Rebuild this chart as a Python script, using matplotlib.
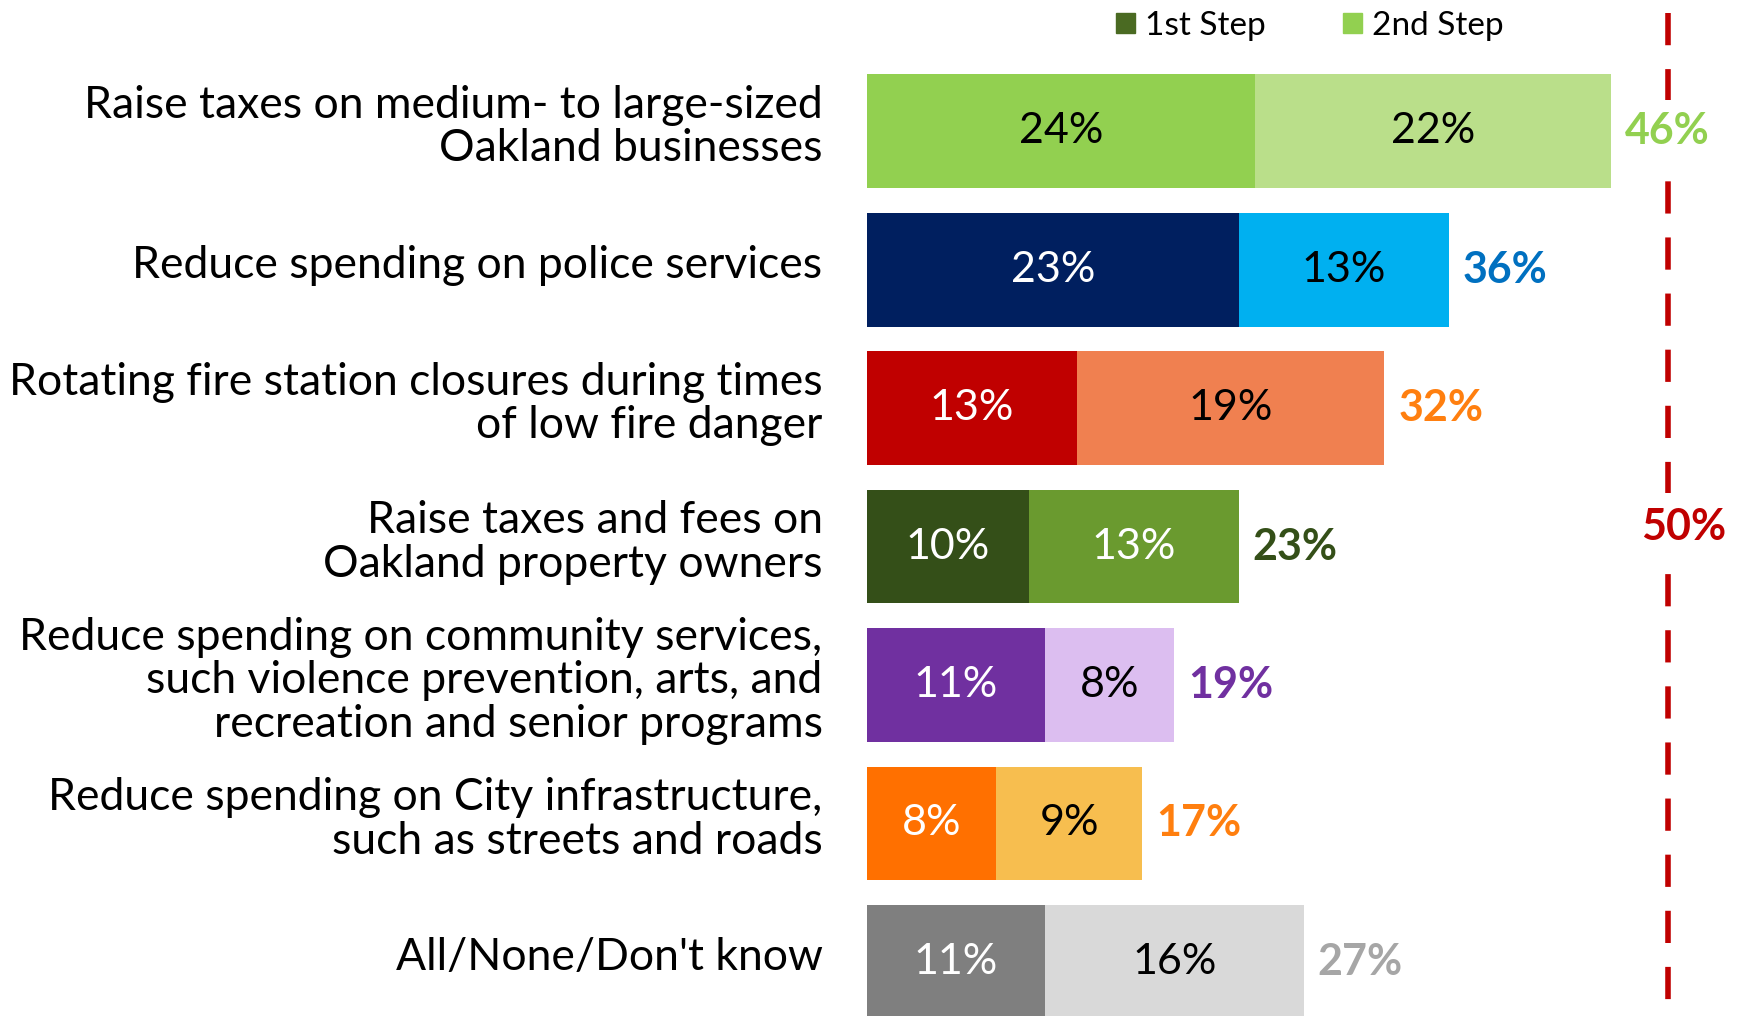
import matplotlib.pyplot as plt
import matplotlib.transforms as mtransforms
from matplotlib.patches import Patch

plt.rcParams['font.family'] = ['Lato', 'DejaVu Sans']

labels = [
    "Raise taxes on medium- to large-sized\nOakland businesses",
    "Reduce spending on police services",
    "Rotating fire station closures during times\nof low fire danger",
    "Raise taxes and fees on\nOakland property owners",
    "Reduce spending on community services,\nsuch violence prevention, arts, and\nrecreation and senior programs",
    "Reduce spending on City infrastructure,\nsuch as streets and roads",
    "All/None/Don't know",
]
first = [24, 23, 13, 10, 11, 8, 11]
second = [22, 13, 19, 13, 8, 9, 16]
totals = [46, 36, 32, 23, 19, 17, 27]
threshold = 50

c1 = ['#92D050', '#001F5F', '#C00000', '#344F18', '#7030A0', '#FF7000', '#7F7F7F']
c2 = ['#BADF8A', '#00B0F0', '#F08050', '#6A9A2F', '#DCBEF0', '#F7BE4F', '#D9D9D9']
ctot = ['#92D050', '#0070C0', '#FF7F0F', '#344F18', '#7030A0', '#FF7F0F', '#A6A6A6']
t1 = ['black', 'white', 'white', 'white', 'white', 'white', 'white']
t2 = ['black', 'black', 'black', 'white', 'black', 'black', 'black']

fig = plt.figure(figsize=(17.37, 10.16), dpi=100)
ax = fig.add_axes([867 / 1737, 0, 1 - 867 / 1737, 1])

y = list(range(len(labels)))
h = 0.823
ax.barh(y, first, height=h, color=c1)
ax.barh(y, second, left=first, height=h, color=c2)

# linea del 50% (un poco desplazada como en el original)
off = mtransforms.ScaledTranslation(-8 / 100, 0, fig.dpi_scale_trans)
off_lbl = mtransforms.ScaledTranslation(8 / 100, 0, fig.dpi_scale_trans)
ax.plot([threshold, threshold], [0.987, 0], color='#C00000', lw=4,
        linestyle=(0, (5.8, 4.3)), transform=ax.get_xaxis_transform() + off, zorder=1)
ax.text(threshold, 2.86, f"{threshold}%", ha='center', va='center', fontsize=31,
        fontweight='bold', color='#C00000', transform=ax.transData + off_lbl,
        bbox=dict(facecolor='white', edgecolor='none', pad=10), zorder=3)

for i in y:
    ax.text(first[i] / 2, i, f"{first[i]}%", ha='center', va='center',
            fontsize=31, color=t1[i])
    ax.text(first[i] + second[i] / 2, i, f"{second[i]}%", ha='center', va='center',
            fontsize=31, color=t2[i])
    ax.annotate(f"{totals[i]}%", (first[i] + second[i], i), xytext=(10, 0),
                textcoords='offset points', ha='left', va='center',
                fontsize=31, fontweight='bold', color=ctot[i], zorder=4,
                bbox=dict(facecolor='white', edgecolor='none', pad=8))
    ax.annotate(labels[i], (0, i), xytext=(-32, 3), textcoords='offset points',
                ha='right', va='center', fontsize=32, linespacing=1.08,
                annotation_clip=False)

ax.set_xlim(0, (1737 - 867) / 16.17)
ax.set_ylim(6.39, -0.946)
ax.axis('off')

handles = [Patch(color='#4A6A22', label='1st Step'), Patch(color='#92D050', label='2nd Step')]
fig.legend(handles=handles, loc='center', bbox_to_anchor=(1310 / 1737, 1 - 26 / 1016),
           ncol=2, frameon=False, fontsize=24, handlelength=0.57, handleheight=0.57,
           handletextpad=0.3, columnspacing=2.3)

fig.savefig("out.png", dpi=100)
